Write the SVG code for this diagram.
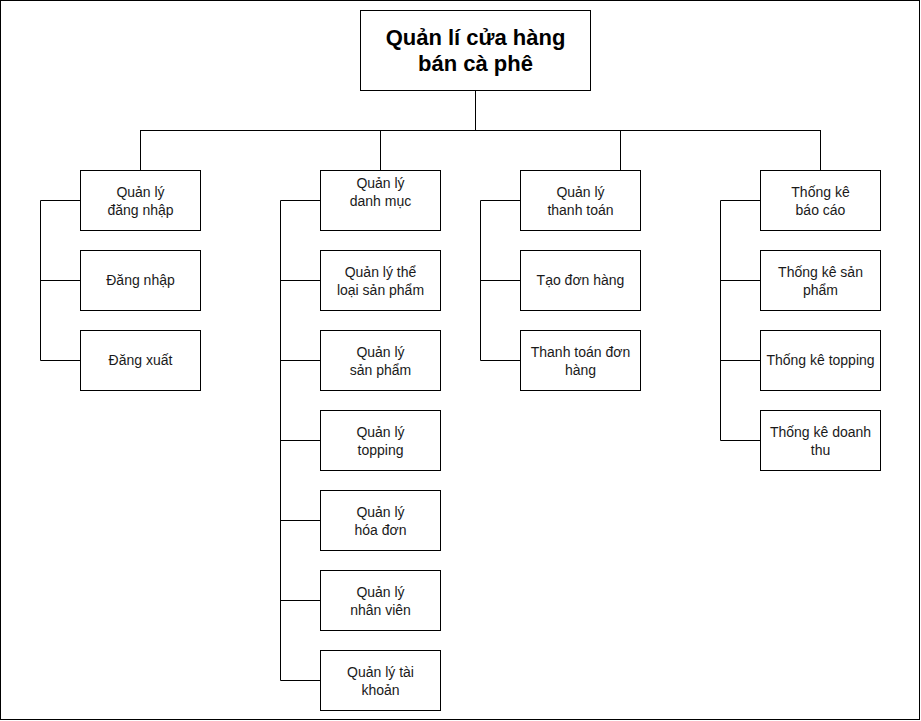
<svg xmlns="http://www.w3.org/2000/svg" width="921" height="721" viewBox="0 0 921 721">
<style>
.box{fill:#fff;stroke:#000;stroke-width:1}
.t{font-family:"Liberation Sans",Arial,sans-serif;font-size:14px;fill:#1a1a1a;text-anchor:middle}
.title{font-family:"Liberation Sans",Arial,sans-serif;font-size:22px;font-weight:bold;fill:#000;text-anchor:middle}
.c{fill:none;stroke:#000;stroke-width:1}
</style>
<rect x="0.5" y="0.5" width="919" height="719" fill="#fff" stroke="#000"/>
<g id="connectors">
<path class="c" d="M475.5 90V130.5M140.5 130.5H820.5M140.5 130V170M380.5 130V170M620.5 130V170M820.5 130V170"/>
<path class="c" d="M80 200.5H40.5V360.5H80M40.5 280.5H80"/>
<path class="c" d="M320 200.5H280.5V680.5H320M280.5 280.5H320M280.5 360.5H320M280.5 440.5H320M280.5 520.5H320M280.5 600.5H320"/>
<path class="c" d="M520 200.5H480.5V360.5H520M480.5 280.5H520"/>
<path class="c" d="M760 200.5H720.5V440.5H760M720.5 280.5H760M720.5 360.5H760"/>
</g>
<g id="root"><rect class="box" x="360.5" y="10.5" width="230" height="80"/><text class="title" x="475.5" y="45">Quản lí cửa hàng</text><text class="title" x="475.5" y="71">bán cà phê</text></g>
<g id="n-dangnhap-group"><rect class="box" x="80.5" y="170.5" width="120" height="60"/><text class="t" x="140.5" y="197">Quản lý</text><text class="t" x="140.5" y="215">đăng nhập</text></g>
<g id="n-dangnhap"><rect class="box" x="80.5" y="250.5" width="120" height="60"/><text class="t" x="140.5" y="285">Đăng nhập</text></g>
<g id="n-dangxuat"><rect class="box" x="80.5" y="330.5" width="120" height="60"/><text class="t" x="140.5" y="365">Đăng xuất</text></g>
<g id="n-danhmuc"><rect class="box" x="320.5" y="170.5" width="120" height="60"/><text class="t" x="380.5" y="188">Quản lý</text><text class="t" x="380.5" y="206">danh mục</text></g>
<g id="n-theloai"><rect class="box" x="320.5" y="250.5" width="120" height="60"/><text class="t" x="380.5" y="277">Quản lý thể</text><text class="t" x="380.5" y="295">loại sản phẩm</text></g>
<g id="n-sanpham"><rect class="box" x="320.5" y="330.5" width="120" height="60"/><text class="t" x="380.5" y="357">Quản lý</text><text class="t" x="380.5" y="375">sản phẩm</text></g>
<g id="n-topping"><rect class="box" x="320.5" y="410.5" width="120" height="60"/><text class="t" x="380.5" y="437">Quản lý</text><text class="t" x="380.5" y="455">topping</text></g>
<g id="n-hoadon"><rect class="box" x="320.5" y="490.5" width="120" height="60"/><text class="t" x="380.5" y="517">Quản lý</text><text class="t" x="380.5" y="535">hóa đơn</text></g>
<g id="n-nhanvien"><rect class="box" x="320.5" y="570.5" width="120" height="60"/><text class="t" x="380.5" y="597">Quản lý</text><text class="t" x="380.5" y="615">nhân viên</text></g>
<g id="n-taikhoan"><rect class="box" x="320.5" y="650.5" width="120" height="60"/><text class="t" x="380.5" y="677">Quản lý tài</text><text class="t" x="380.5" y="695">khoản</text></g>
<g id="n-thanhtoan"><rect class="box" x="520.5" y="170.5" width="120" height="60"/><text class="t" x="580.5" y="197">Quản lý</text><text class="t" x="580.5" y="215">thanh toán</text></g>
<g id="n-taodon"><rect class="box" x="520.5" y="250.5" width="120" height="60"/><text class="t" x="580.5" y="285">Tạo đơn hàng</text></g>
<g id="n-thanhtoandon"><rect class="box" x="520.5" y="330.5" width="120" height="60"/><text class="t" x="580.5" y="357">Thanh toán đơn</text><text class="t" x="580.5" y="375">hàng</text></g>
<g id="n-thongke"><rect class="box" x="760.5" y="170.5" width="120" height="60"/><text class="t" x="820.5" y="197">Thống kê</text><text class="t" x="820.5" y="215">báo cáo</text></g>
<g id="n-tk-sanpham"><rect class="box" x="760.5" y="250.5" width="120" height="60"/><text class="t" x="820.5" y="277">Thống kê sản</text><text class="t" x="820.5" y="295">phẩm</text></g>
<g id="n-tk-topping"><rect class="box" x="760.5" y="330.5" width="120" height="60"/><text class="t" x="820.5" y="365">Thống kê topping</text></g>
<g id="n-tk-doanhthu"><rect class="box" x="760.5" y="410.5" width="120" height="60"/><text class="t" x="820.5" y="437">Thống kê doanh</text><text class="t" x="820.5" y="455">thu</text></g>
</svg>
